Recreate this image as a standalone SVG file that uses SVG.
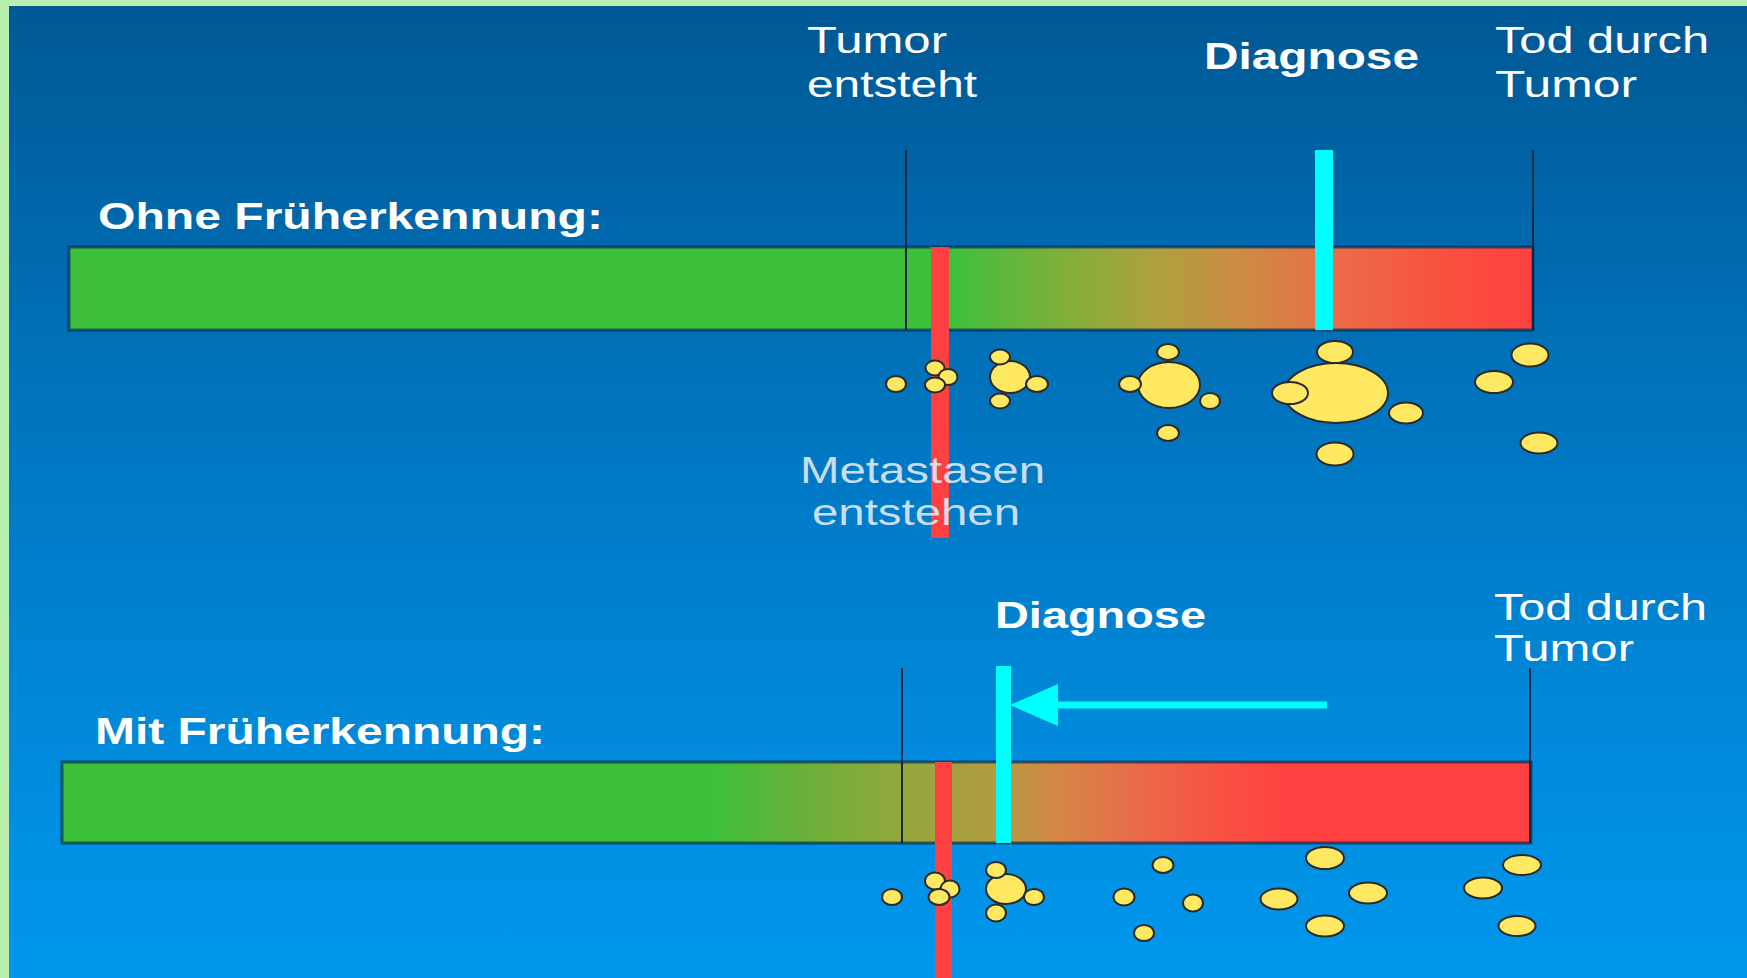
<svg xmlns="http://www.w3.org/2000/svg" width="1747" height="978" viewBox="0 0 1747 978">
<style>
.lbl{font-family:"Liberation Sans",Arial,sans-serif;font-size:36px;fill:#ffffff}
.b{font-weight:bold}
.meta{fill:#dfe8f6;opacity:0.9}
.tick{stroke:#0c2a44;stroke-width:2}
.bar{stroke:#002850;stroke-opacity:0.65;stroke-width:3}
.red{fill:#ff4040}
.cyan{fill:#00ffff}
.m{fill:#ffe862;stroke:#2a2a2a;stroke-width:2}
</style>
<defs>
<linearGradient id="bg" x1="0" y1="0" x2="0" y2="1">
<stop offset="0" stop-color="#005894"/>
<stop offset="0.5" stop-color="#007ac6"/>
<stop offset="1" stop-color="#0098ee"/>
</linearGradient>
<linearGradient id="g1" gradientUnits="userSpaceOnUse" x1="69" y1="0" x2="1533" y2="0">
<stop offset="0.6004" stop-color="#3cc03c"/>
<stop offset="0.6769" stop-color="#7eb03a"/>
<stop offset="0.7384" stop-color="#aca23e"/>
<stop offset="0.8067" stop-color="#cf8a44"/>
<stop offset="0.8682" stop-color="#ec6a48"/>
<stop offset="0.9365" stop-color="#f8523f"/>
<stop offset="1" stop-color="#ff4040"/>
</linearGradient>
<linearGradient id="g2" gradientUnits="userSpaceOnUse" x1="62" y1="0" x2="1531" y2="0">
<stop offset="0.4425" stop-color="#3cc03c"/>
<stop offset="0.5024" stop-color="#68b03a"/>
<stop offset="0.5705" stop-color="#94a83c"/>
<stop offset="0.6385" stop-color="#b49a42"/>
<stop offset="0.6794" stop-color="#d68648"/>
<stop offset="0.7406" stop-color="#ec6648"/>
<stop offset="0.8087" stop-color="#fc4a42"/>
<stop offset="0.8359" stop-color="#ff4040"/>
<stop offset="1" stop-color="#ff4040"/>
</linearGradient>
<marker id="ah" markerUnits="userSpaceOnUse" markerWidth="48" markerHeight="42" viewBox="0 0 48 42" refX="0" refY="21" orient="auto">
<path d="M0,0 L48,21 L0,42 z" fill="#00ffff"/>
</marker>
</defs>

<rect x="0" y="0" width="1747" height="978" fill="url(#bg)"/>
<rect x="0" y="0" width="1747" height="6" fill="#b8f0b0"/>
<rect x="0" y="0" width="9" height="978" fill="#b8f0b0"/>

<g id="top-timeline">
<rect class="bar" x="69" y="247" width="1464" height="83" fill="url(#g1)"/>
<line class="tick" x1="906" y1="150" x2="906" y2="330"/>
<line class="tick" x1="1533" y1="150" x2="1533" y2="330"/>
<rect class="red" x="931" y="247" width="18" height="291"/>
<rect class="cyan" x="1315" y="150" width="18" height="180"/>
</g>

<g id="top-labels">
<text class="lbl" x="807" y="53" textLength="140" lengthAdjust="spacingAndGlyphs">Tumor</text>
<text class="lbl" x="807" y="97" textLength="170" lengthAdjust="spacingAndGlyphs">entsteht</text>
<text class="lbl b" x="1204" y="69" textLength="215" lengthAdjust="spacingAndGlyphs">Diagnose</text>
<text class="lbl" x="1495" y="53" textLength="214" lengthAdjust="spacingAndGlyphs">Tod durch</text>
<text class="lbl" x="1495" y="97" textLength="142" lengthAdjust="spacingAndGlyphs">Tumor</text>
<text class="lbl b" x="98" y="229" textLength="505" lengthAdjust="spacingAndGlyphs">Ohne Früherkennung:</text>
<text class="lbl meta" x="800" y="483" textLength="245" lengthAdjust="spacingAndGlyphs">Metastasen</text>
<text class="lbl meta" x="812" y="525" textLength="208" lengthAdjust="spacingAndGlyphs">entstehen</text>
</g>

<g id="top-metastases">
<ellipse class="m" cx="896" cy="384" rx="10" ry="8"/>
<ellipse class="m" cx="935" cy="368" rx="9.5" ry="7.5"/>
<ellipse class="m" cx="948" cy="377" rx="9.5" ry="8"/>
<ellipse class="m" cx="935" cy="385" rx="10" ry="7.5"/>
<ellipse class="m" cx="1010" cy="377" rx="20" ry="16"/>
<ellipse class="m" cx="1000" cy="357" rx="10" ry="7.5"/>
<ellipse class="m" cx="1037" cy="384" rx="11" ry="8"/>
<ellipse class="m" cx="1000" cy="401" rx="10" ry="7.5"/>
<ellipse class="m" cx="1169" cy="385" rx="31" ry="23"/>
<ellipse class="m" cx="1168" cy="352" rx="11" ry="8"/>
<ellipse class="m" cx="1130" cy="384" rx="11" ry="8"/>
<ellipse class="m" cx="1210" cy="401" rx="10" ry="8"/>
<ellipse class="m" cx="1168" cy="433" rx="11" ry="8"/>
<ellipse class="m" cx="1335" cy="352" rx="18" ry="11"/>
<ellipse class="m" cx="1336" cy="393" rx="52" ry="30"/>
<ellipse class="m" cx="1290" cy="393" rx="18" ry="11"/>
<ellipse class="m" cx="1406" cy="413" rx="17" ry="10.5"/>
<ellipse class="m" cx="1335" cy="454" rx="18.5" ry="11.5"/>
<ellipse class="m" cx="1530" cy="355" rx="18.5" ry="11.5"/>
<ellipse class="m" cx="1494" cy="382" rx="19" ry="11"/>
<ellipse class="m" cx="1539" cy="443" rx="18.5" ry="10.5"/>
</g>

<g id="bottom-timeline">
<rect class="bar" x="62" y="762" width="1469" height="81" fill="url(#g2)"/>
<line class="tick" x1="902" y1="668" x2="902" y2="843"/>
<line class="tick" x1="1530" y1="668" x2="1530" y2="843"/>
<rect class="red" x="935" y="762" width="17" height="216"/>
<rect class="cyan" x="996" y="666" width="15" height="177"/>
</g>

<g id="connectors">
<line x1="1327" y1="705" x2="1058" y2="705" stroke="#00ffff" stroke-width="7" marker-end="url(#ah)"/>
</g>

<g id="bottom-labels">
<text class="lbl b" x="995" y="628" textLength="211" lengthAdjust="spacingAndGlyphs">Diagnose</text>
<text class="lbl" x="1494" y="620" textLength="213" lengthAdjust="spacingAndGlyphs">Tod durch</text>
<text class="lbl" x="1494" y="661" textLength="140" lengthAdjust="spacingAndGlyphs">Tumor</text>
<text class="lbl b" x="95" y="744" textLength="450" lengthAdjust="spacingAndGlyphs">Mit Früherkennung:</text>
</g>

<g id="bottom-metastases">
<ellipse class="m" cx="892" cy="897" rx="10" ry="8"/>
<ellipse class="m" cx="935" cy="881" rx="10" ry="8.5"/>
<ellipse class="m" cx="950" cy="889" rx="9.5" ry="8.5"/>
<ellipse class="m" cx="939" cy="897" rx="10.5" ry="8"/>
<ellipse class="m" cx="1006" cy="889" rx="20" ry="15"/>
<ellipse class="m" cx="996" cy="870" rx="10" ry="8"/>
<ellipse class="m" cx="1034" cy="897" rx="10" ry="8"/>
<ellipse class="m" cx="996" cy="913" rx="10" ry="8.5"/>
<ellipse class="m" cx="1163" cy="865" rx="10.5" ry="8"/>
<ellipse class="m" cx="1124" cy="897" rx="10.5" ry="8.5"/>
<ellipse class="m" cx="1193" cy="903" rx="10" ry="8.5"/>
<ellipse class="m" cx="1144" cy="933" rx="10" ry="8"/>
<ellipse class="m" cx="1279" cy="899" rx="18.5" ry="10.5"/>
<ellipse class="m" cx="1325" cy="858" rx="19" ry="11"/>
<ellipse class="m" cx="1368" cy="893" rx="19" ry="10.5"/>
<ellipse class="m" cx="1325" cy="926" rx="19" ry="10.5"/>
<ellipse class="m" cx="1522" cy="865" rx="19" ry="10"/>
<ellipse class="m" cx="1483" cy="888" rx="19" ry="10.5"/>
<ellipse class="m" cx="1517" cy="926" rx="18.5" ry="10"/>
</g>
</svg>
